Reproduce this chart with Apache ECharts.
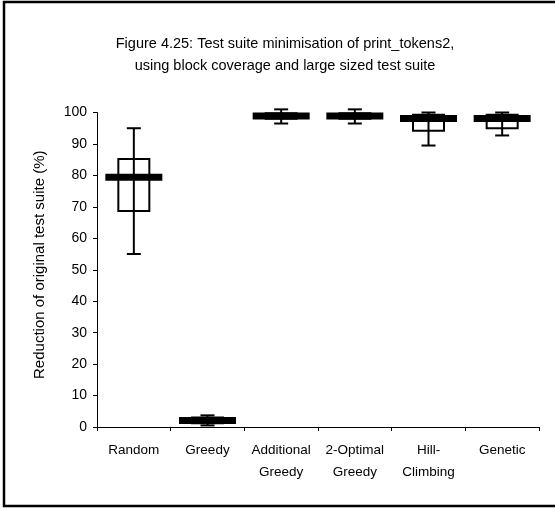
<!DOCTYPE html>
<html>
<head>
<meta charset="utf-8">
<script src="https://cdn.jsdelivr.net/npm/echarts@6/dist/echarts.min.js"></script>
<style>
  html, body { margin: 0; padding: 0; background: #fff; }
  #chart { width: 555px; height: 508px; }
</style>
</head>
<body>
<div id="chart"></div>
<script>
// categories and box stats
const categories = ["Random", "Greedy", "Additional\nGreedy", "2-Optimal\nGreedy", "Hill-\nClimbing", "Genetic"];
const whiskerLow = [55, 0.5, 96.5, 96.5, 89.5, 92.7];
const boxLow = [68.7, 1.2, 98, 98, 94.2, 95];
const medians = [79.4, 2.1, 98.9, 98.9, 98.1, 98.1];
const boxHigh = [85.2, 3, 99.8, 99.8, 99.3, 99.3];
const whiskerHigh = [95, 3.7, 101, 101, 100, 100];
const yTicks = [0, 10, 20, 30, 40, 50, 60, 70, 80, 90, 100];

let boxData = categories.map((c, i) => [i, whiskerLow[i], boxLow[i], medians[i], boxHigh[i], whiskerHigh[i]]);

function renderBox(params, api) {
  let idx = api.value(0);
  let lo = api.coord([idx, api.value(1)]);
  let q1 = api.coord([idx, api.value(2)]);
  let md = api.coord([idx, api.value(3)]);
  let q3 = api.coord([idx, api.value(4)]);
  let hi = api.coord([idx, api.value(5)]);
  let x = lo[0];
  let boxW = 31, capW = 14, medW = 57, medH = 7;
  let ln = { stroke: "#000", lineWidth: 2 };
  return {
    type: "group",
    children: [
      { type: "line", shape: { x1: x, y1: lo[1], x2: x, y2: hi[1] }, style: ln },
      { type: "line", shape: { x1: x - capW / 2, y1: lo[1], x2: x + capW / 2, y2: lo[1] }, style: ln },
      { type: "line", shape: { x1: x - capW / 2, y1: hi[1], x2: x + capW / 2, y2: hi[1] }, style: ln },
      { type: "rect", shape: { x: x - boxW / 2, y: q3[1], width: boxW, height: q1[1] - q3[1] }, style: { fill: null, stroke: "#000", lineWidth: 2 } },
      { type: "rect", shape: { x: x - medW / 2, y: md[1] - medH / 2, width: medW, height: medH }, style: { fill: "#000" } }
    ]
  };
}

let chart = echarts.init(document.getElementById("chart"));
chart.setOption({
  animation: false,
  backgroundColor: "#fff",
  textStyle: { fontFamily: "Liberation Sans, Arial, sans-serif" },
  title: {
    text: "Figure 4.25: Test suite minimisation of print_tokens2,\nusing block coverage and large sized test suite",
    left: 280,
    top: 28,
    textAlign: "center",
    textStyle: { fontSize: 14.5, fontWeight: "normal", color: "#000", lineHeight: 22, fontFamily: "Liberation Sans, Arial, sans-serif" }
  },
  grid: { left: 97, right: 16, top: 112.5, bottom: 81 },
  xAxis: {
    type: "category",
    data: categories,
    boundaryGap: true,
    axisLine: { lineStyle: { color: "#000", width: 1 } },
    axisTick: { show: true, length: 4, lineStyle: { color: "#000" } },
    axisLabel: { color: "#000", fontSize: 13.5, lineHeight: 22, margin: 12, interval: 0 }
  },
  yAxis: {
    type: "value",
    min: 0,
    max: 100,
    interval: 10,
    name: "Reduction of original test suite (%)",
    nameLocation: "middle",
    nameGap: 50,
    nameTextStyle: { color: "#000", fontSize: 15, padding: [0, 0, 0, 10] },
    axisLine: { show: true, lineStyle: { color: "#000", width: 1 } },
    axisTick: { show: true, length: 4, lineStyle: { color: "#000" } },
    axisLabel: { color: "#000", fontSize: 14, margin: 10, formatter: v => yTicks.includes(v) ? String(v) : "" },
    splitLine: { show: false }
  },
  series: [{
    type: "custom",
    renderItem: renderBox,
    clip: false,
    data: boxData,
    encode: { x: 0, y: [1, 2, 3, 4, 5] }
  }],
  graphic: [
    { type: "rect", shape: { x: 4, y: 2, width: 560, height: 504 }, style: { fill: null, stroke: "#000", lineWidth: 2.5 }, silent: true }
  ]
});
</script>
</body>
</html>
